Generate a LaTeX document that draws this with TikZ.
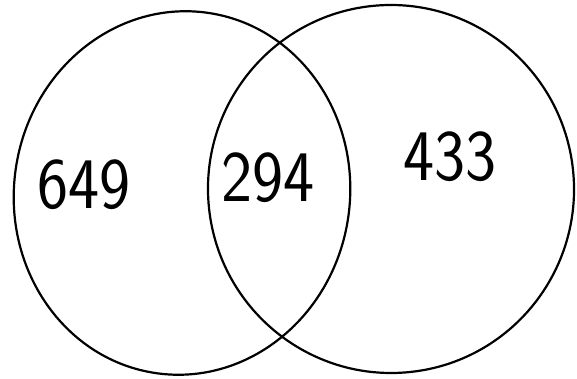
\documentclass[tikz,border=0pt]{standalone}
\usepackage{tikz}
\usetikzlibrary{positioning}

\begin{document}
\begin{tikzpicture}[x=1pt,y=1pt,
   set line/.style={line width=2.2pt,black},
   count/.style={font=\fontsize{66}{66}\selectfont\sffamily,yscale=1.1,inner sep=0pt}]
 \useasboundingbox (0,0) rectangle (577,379);
 % the two sets
 \draw[set line,rotate around={-8:(182,186)}] (182,186) ellipse [x radius=168,y radius=182];
 \draw[set line,rotate around={6:(391,190)}] (391,190) ellipse [x radius=183,y radius=184];
 % the counts
 \node[count] (left)  at (84,194)  {649};
 \node[count] (both)  at (268,201) {294};
 \node[count] (right) at (450,222) {433};
\end{tikzpicture}
\end{document}
